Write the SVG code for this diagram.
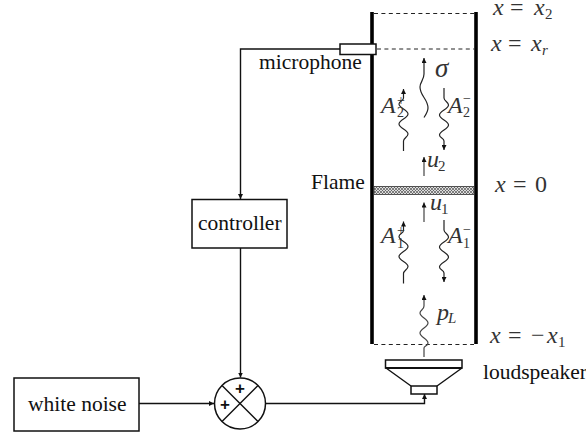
<svg xmlns="http://www.w3.org/2000/svg" width="586" height="434" viewBox="0 0 586 434">
<style>
text{font-family:"Liberation Serif","Times New Roman",serif;font-size:21.5px;fill:#111}
.m{fill:#333;font-size:24px}
.i{font-style:italic}
.s{font-size:15px}
.t{font-size:14px}
.b{fill:#fff;stroke:#111;stroke-width:1.5}
.l{fill:none;stroke:#111;stroke-width:1.4}
.w{fill:none;stroke:#222;stroke-width:1.2}
.g{fill:none;stroke:#444;stroke-width:1.2}
.d{stroke:#222;stroke-width:1;stroke-dasharray:4 3.400;fill:none}
.p{font-family:"Liberation Sans",sans-serif;font-size:17px;font-weight:bold;text-anchor:middle}
</style>
<defs>
<marker id="a" markerUnits="userSpaceOnUse" markerWidth="7" markerHeight="6" refX="5" refY="2.500" orient="auto"><path d="M0,0L5,2.500L0,5z" fill="#111"/></marker>
<pattern id="h" width="3" height="3" patternUnits="userSpaceOnUse"><rect width="3" height="3" fill="#ddd"/><path d="M0,0L3,3M3,0L0,3" stroke="#555" stroke-width=".7"/></pattern>
<path id="wv" marker-end="url(#a)" d="M0,0V-10C0,-13 4.500,-14 4.500,-17C4.500,-21 -4.500,-23 -4.500,-27C-4.500,-31 4.500,-33 4.500,-37C4.500,-41 -4.500,-43 -4.500,-47C-4.500,-50 0,-50 0,-53V-62"/>
</defs>
<g id="connectors">
<path class="l" d="M340,49H240.500V199" marker-end="url(#a)"/>
<path class="l" d="M240.500,248V377.500" marker-end="url(#a)"/>
<path class="l" d="M139,403.500H214" marker-end="url(#a)"/>
<path class="l" d="M266,403.500H424.500V394" marker-end="url(#a)"/>
</g>
<g id="duct">
<path d="M372,12V344M476,12V344" stroke="#000" stroke-width="3.600" fill="none"/>
<path class="d" d="M374,13.500H474M377,49H474M374,344.500H474"/>
</g>
<g id="flame">
<rect x="374" y="186.500" width="100" height="8" fill="url(#h)" stroke="#333" stroke-width=".8"/>
<text x="311" y="189">Flame</text>
</g>
<g id="microphone">
<rect class="b" x="340" y="44" width="36" height="10.500"/>
<text x="259" y="69">microphone</text>
</g>
<g id="controller">
<rect class="b" x="192" y="199.500" width="95" height="48.500"/>
<text x="198" y="230">controller</text>
</g>
<g id="white-noise">
<rect class="b" x="14" y="378" width="125" height="53"/>
<text x="28" y="411">white noise</text>
</g>
<g id="summing-junction">
<circle class="b" cx="240" cy="403.500" r="25.500"/>
<path class="l" d="M222,385.500L258,421.500M258,385.500L222,421.500"/>
<text class="p" x="240" y="393.500">+</text>
<text class="p" x="225" y="409.500">+</text>
</g>
<g id="loudspeaker">
<rect class="b" x="385.500" y="360" width="76.500" height="8"/>
<path d="M385.500,368H462" stroke="#111" stroke-width="2.200"/>
<path class="l" d="M386,368L411,386M462,368L437,386"/>
<rect class="b" x="411" y="386" width="26" height="8"/>
<text x="483" y="379">loudspeaker</text>
</g>
<g id="waves">
<use href="#wv" class="w" x="403.500" y="151"/>
<use href="#wv" class="w" transform="translate(444,88) scale(1,-1)"/>
<path class="w" marker-end="url(#a)" d="M424,117.500C427,113 428,111 428,108C428,99 420,96 420,87C420,82 424,80 424,74V58"/>
<path class="g" marker-end="url(#a)" d="M424,176V157"/>
<path class="g" marker-end="url(#a)" d="M424,222V202.500"/>
<use href="#wv" class="w" x="403.500" y="283.500"/>
<use href="#wv" class="w" transform="translate(444,220) scale(1,-1)"/>
<path class="g" marker-end="url(#a)" d="M424,357V348C424,346 428,346 428,343C428,339 420,337 420,333C420,329 428,327 428,323C428,319 420,317 420,313C420,310 424,310 424,306V295"/>
</g>
<g id="labels">
<text class="m"><tspan class="i" x="493" y="15">x</tspan><tspan x="510" y="15">=</tspan><tspan class="i" x="534" y="15">x</tspan><tspan class="s" x="545" y="19">2</tspan></text>
<text class="m"><tspan class="i" x="491" y="51">x</tspan><tspan x="508" y="51">=</tspan><tspan class="i" x="531" y="51">x</tspan><tspan class="s i" x="542" y="55">r</tspan></text>
<text class="m"><tspan class="i" x="495" y="192">x</tspan><tspan x="513" y="192">=</tspan><tspan x="535" y="192">0</tspan></text>
<text class="m"><tspan class="i" x="490" y="343">x</tspan><tspan x="508" y="343">=</tspan><tspan x="531" y="343">−</tspan><tspan class="i" x="547" y="343">x</tspan><tspan class="s" x="558" y="347">1</tspan></text>
<text class="m i" x="435" y="77" style="font-size:27px">σ</text>
<text class="m"><tspan class="i" x="381" y="113">A</tspan><tspan class="t" x="397" y="117">2</tspan><tspan class="t" x="397" y="104.500">+</tspan></text>
<text class="m"><tspan class="i" x="448" y="113">A</tspan><tspan class="t" x="463" y="117">2</tspan><tspan class="t" x="463" y="102.500">−</tspan></text>
<text class="m"><tspan class="i" x="427" y="167">u</tspan><tspan class="s" x="438" y="171">2</tspan></text>
<text class="m"><tspan class="i" x="430" y="210">u</tspan><tspan class="s" x="441" y="214">1</tspan></text>
<text class="m"><tspan class="i" x="381" y="243">A</tspan><tspan class="t" x="397" y="248">1</tspan><tspan class="t" x="397" y="234.500">+</tspan></text>
<text class="m"><tspan class="i" x="448" y="243">A</tspan><tspan class="t" x="463" y="248">1</tspan><tspan class="t" x="463" y="233.500">−</tspan></text>
<text class="m"><tspan class="i" x="437" y="320">p</tspan><tspan class="s i" x="448" y="323">L</tspan></text>
</g>
</svg>
